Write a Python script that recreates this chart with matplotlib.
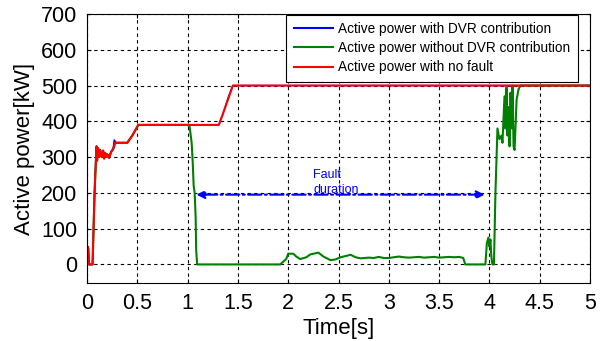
import matplotlib.pyplot as plt

plt.rcParams['font.family'] = ['Liberation Sans', 'DejaVu Sans']

# Active power with no fault [kW]
t_nofault = [0, 0.005, 0.012, 0.02, 0.055, 0.065, 0.075, 0.085, 0.095, 0.10, 0.11,
             0.12, 0.13, 0.14, 0.15, 0.16, 0.17, 0.18, 0.19, 0.20, 0.21, 0.22,
             0.24, 0.26, 0.28, 0.40, 0.45, 0.51, 1.31, 1.35, 1.40, 1.45, 5.0]
p_nofault = [0, 50, 45, 0, 0, 100, 200, 270, 330, 290, 325, 300, 320, 305, 300,
             318, 296, 312, 300, 308, 304, 298, 315, 322, 340, 340, 360, 390,
             390, 420, 460, 500, 500]

# Active power with DVR contribution [kW]
t_dvr = [0, 0.005, 0.012, 0.02, 0.055, 0.065, 0.075, 0.085, 0.095, 0.10, 0.11,
         0.12, 0.13, 0.14, 0.15, 0.16, 0.17, 0.18, 0.19, 0.20, 0.21, 0.22,
         0.24, 0.26, 0.27, 0.29, 0.40, 0.45, 0.51, 1.31, 1.35, 1.41, 1.45, 5.0]
p_dvr = [0, 50, 45, 0, 0, 100, 200, 270, 330, 290, 325, 300, 320, 305, 300,
         318, 296, 312, 300, 308, 304, 298, 315, 325, 348, 340, 340, 360, 390,
         390, 420, 472, 500, 500]

# Active power without DVR contribution [kW]
t_nodvr = [0, 0.005, 0.012, 0.02, 0.055, 0.065, 0.075, 0.085, 0.095, 0.10, 0.11,
           0.12, 0.13, 0.14, 0.15, 0.16, 0.17, 0.18, 0.19, 0.20, 0.21, 0.22,
           0.24, 0.26, 0.28, 0.40, 0.45, 0.51, 1.00, 1.02, 1.04, 1.05, 1.06,
           1.07, 1.08, 1.085, 1.095, 1.92, 1.98, 2.00, 2.05, 2.08, 2.12, 2.18,
           2.22, 2.30, 2.35, 2.42, 2.47, 2.52, 2.58, 2.62, 2.67, 2.72, 2.80,
           2.85, 2.90, 2.95, 3.00, 3.05, 3.10, 3.15, 3.20, 3.25, 3.30, 3.35,
           3.40, 3.45, 3.50, 3.55, 3.60, 3.65, 3.70, 3.74, 3.76, 3.96, 3.975,
           3.99, 4.00, 4.01, 4.02, 4.03, 4.045, 4.06, 4.08, 4.10, 4.12, 4.13,
           4.15, 4.16, 4.17, 4.18, 4.19, 4.20, 4.21, 4.22, 4.23, 4.24, 4.25,
           4.27, 4.29, 4.31, 5.0]
p_nodvr = [0, 50, 45, 0, 0, 100, 200, 270, 330, 290, 325, 300, 320, 305, 300,
           318, 296, 312, 300, 308, 304, 298, 315, 322, 340, 340, 360, 390,
           390, 385, 340, 290, 220, 200, 130, 40, 0, 0, 15, 30, 30, 22, 15,
           20, 28, 33, 22, 12, 14, 20, 24, 27, 20, 17, 19, 18, 21, 18, 18, 20,
           22, 20, 19, 20, 21, 19, 20, 21, 19, 20, 21, 20, 21, 18, 0, 0, 60,
           75, 50, 70, 20, 0, 0, 200, 380, 350, 360, 340, 470, 380, 495, 360,
           440, 330, 480, 380, 500, 330, 320, 460, 490, 500, 500]

# Fault interval marked by the double arrow
fault_start, fault_end, fault_level = 1.06, 3.98, 195

fig = plt.figure(figsize=(6.06, 3.41), dpi=100)
ax = fig.add_axes([0.1436, 0.170, 0.830, 0.789])

# blue sits under the red trace, so keep it a bit thinner
ax.plot(t_dvr, p_dvr, color='blue', lw=1.0, label='Active power with DVR contribution')
ax.plot(t_nodvr, p_nodvr, color='green', lw=1.5, label='Active power without DVR contribution')
ax.plot(t_nofault, p_nofault, color='red', lw=1.5, label='Active power with no fault')

ax.annotate('', xy=(fault_start, fault_level), xytext=(fault_end, fault_level),
            arrowprops=dict(arrowstyle='<|-|>', color='blue', lw=1.5,
                            linestyle='-.', mutation_scale=12))
ax.text(2.25, 229, 'Fault\nduration', color='blue', fontsize=9,
        ha='left', va='center', linespacing=1.35)

ax.set_xlim(0, 5)
ax.set_ylim(-52, 700)
ax.set_xticks([0, 0.5, 1, 1.5, 2, 2.5, 3, 3.5, 4, 4.5, 5])
ax.set_xticklabels(['0', '0.5', '1', '1.5', '2', '2.5', '3', '3.5', '4', '4.5', '5'])
ax.set_yticks([0, 100, 200, 300, 400, 500, 600, 700])
ax.tick_params(direction='in', labelsize=15.5, length=3, top=True, right=True, pad=7)
ax.grid(True, color='black', linestyle=(0, (3, 3)), lw=0.8)

ax.set_xlabel('Time[s]', fontsize=16, labelpad=3)
ax.set_ylabel('Active power[kW]', fontsize=16, labelpad=4)

leg = ax.legend(loc='upper right', bbox_to_anchor=(0.976, 0.998), fontsize=9.8,
                handlelength=2.9, handletextpad=0.37, labelspacing=0.38,
                fancybox=False, framealpha=1, borderpad=0.55, borderaxespad=0.0)
leg.get_frame().set_edgecolor('black')
leg.get_frame().set_linewidth(0.8)
for line in leg.get_lines():
    line.set_linewidth(1.5)

fig.savefig('out.png', dpi=100)
